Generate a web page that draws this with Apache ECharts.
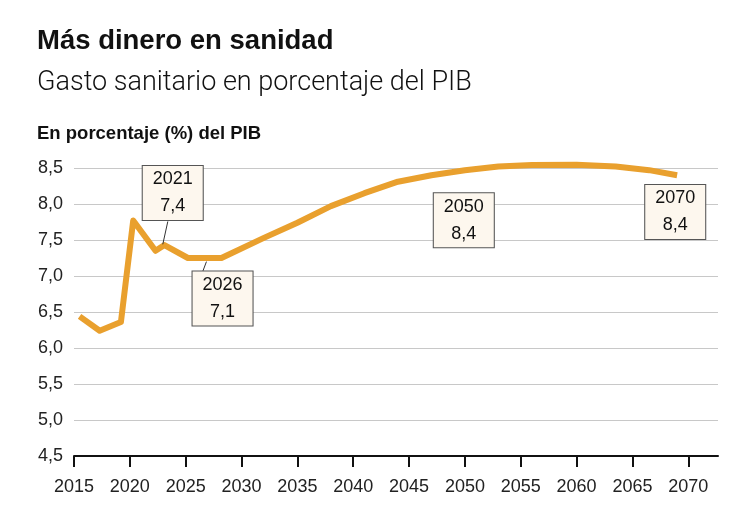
<!DOCTYPE html>
<html>
<head>
<meta charset="utf-8">
<script src="https://cdn.jsdelivr.net/npm/echarts@6/dist/echarts.min.js"></script>
<style>
html,body{margin:0;padding:0;background:#fff;}
#c{width:750px;height:516px;}
</style>
</head>
<body>
<div id="c"></div>
<script>
// ---- data ----
const years = [2015.5, 2017.3, 2019.2, 2020.3, 2022.3, 2023.1, 2025.2, 2028.2, 2032, 2035, 2038, 2041, 2044, 2047, 2050, 2053, 2056, 2060, 2063.5, 2066.5, 2069];
const values = [6.44, 6.24, 6.36, 7.77, 7.35, 7.43, 7.25, 7.25, 7.53, 7.74, 7.97, 8.15, 8.31, 8.40, 8.47, 8.52, 8.54, 8.545, 8.52, 8.47, 8.40];
const xTicks = [2015, 2020, 2025, 2030, 2035, 2040, 2045, 2050, 2055, 2060, 2065, 2070];
const annYears = ['2021', '2026', '2050', '2070'];
const annValues = ['7,4', '7,1', '8,4', '8,4'];

// ---- layout of annotations (data coordinates) ----
const annPos = [[2023.84, 8.153], [2028.3, 6.687], [2049.9, 7.775], [2068.83, 7.89]];
const leaders = [
  [[2023.4, 7.758], [2022.95, 7.44]],
  [[2026.53, 7.064], [2026.86, 7.2]]
];

const FONT = '"Liberation Sans", Arial, sans-serif';
const chart = echarts.init(document.getElementById('c'), null, {renderer: 'canvas'});

chart.setOption({
  animation: false,
  backgroundColor: '#ffffff',
  title: [
    {text: 'Más dinero en sanidad', left: 37, top: 27, padding: 0,
     textStyle: {fontFamily: FONT, fontSize: 27.5, fontWeight: 'bold', color: '#111'}},
    {text: 'Gasto sanitario en porcentaje del PIB', left: 37, top: 70, padding: 0,
     textStyle: {fontFamily: 'Roboto, ' + FONT, fontSize: 27, fontWeight: 300, color: '#111'}},
    {text: 'En porcentaje (%) del PIB', left: 37, top: 124, padding: 0,
     textStyle: {fontFamily: FONT, fontSize: 18.5, fontWeight: 'bold', color: '#111'}}
  ],
  grid: {left: 74, right: 32, top: 168, bottom: 60, containLabel: false},
  xAxis: {
    type: 'value', min: 2015, max: 2072.66, interval: 5,
    axisLine: {show: true, lineStyle: {color: '#111', width: 2}},
    axisTick: {show: true, length: 11, lineStyle: {color: '#111', width: 2}, customValues: xTicks},
    axisLabel: {show: true, customValues: xTicks, margin: 22, fontFamily: FONT, fontSize: 18, color: '#222',
                formatter: v => String(v)},
    splitLine: {show: false}
  },
  yAxis: {
    type: 'value', min: 4.5, max: 8.5, interval: 0.5,
    axisLine: {show: false}, axisTick: {show: false},
    axisLabel: {margin: 11, fontFamily: FONT, fontSize: 18, color: '#222',
                formatter: v => v.toFixed(1).replace('.', ',')},
    splitLine: {lineStyle: {color: '#c8c8c8', width: 1}}
  },
  series: [{
    type: 'line',
    data: years.map((y, i) => [y, values[i]]),
    showSymbol: false,
    symbol: 'none',
    clip: false,
    lineStyle: {color: '#E9A02E', width: 6, cap: 'butt', join: 'round'},
    z: 3,
    markLine: {
      silent: true, symbol: 'none',
      lineStyle: {color: '#333', width: 1, type: 'solid'},
      label: {show: false},
      data: leaders.map(l => [{coord: l[0]}, {coord: l[1]}])
    },
    markPoint: {
      silent: true,
      symbol: 'rect',
      symbolSize: [61, 55],
      itemStyle: {color: '#FDF7EE', borderColor: '#555', borderWidth: 1},
      label: {show: true, position: 'inside', fontFamily: FONT, fontSize: 18, lineHeight: 27, color: '#111'},
      data: annPos.map((p, i) => ({coord: p, value: annYears[i] + '\n' + annValues[i],
                                   label: {formatter: annYears[i] + '\n' + annValues[i]}}))
    }
  }]
});
</script>
</body>
</html>
